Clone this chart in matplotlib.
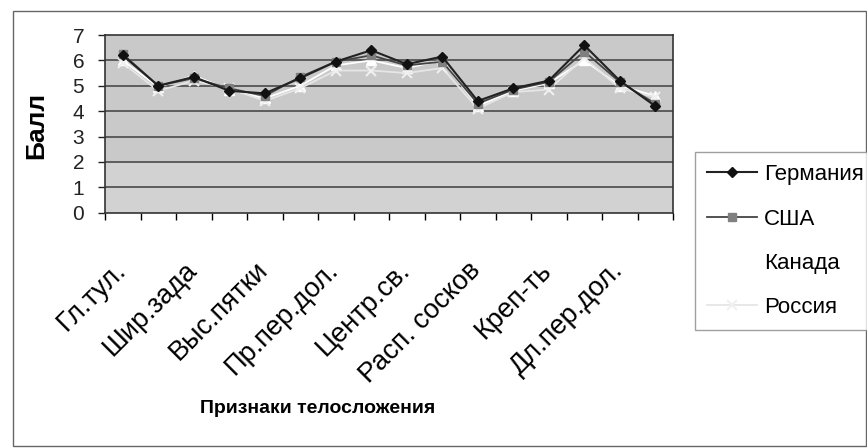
import numpy as np
import matplotlib
matplotlib.use("Agg")
from matplotlib import pyplot as plt
from matplotlib.patches import Rectangle
from matplotlib.transforms import ScaledTranslation

plt.rcParams['font.family'] = ['Liberation Sans', 'DejaVu Sans']

# scores for the 16 body traits (only every other trait is labelled on the axis)
labels = ["Гл.тул.", "Шир.зада", "Выс.пятки", "Пр.пер.дол.",
          "Центр.св.", "Расп. сосков", "Креп-ть", "Дл.пер.дол."]
germany = [6.2, 5.0, 5.35, 4.8, 4.7, 5.3, 5.95, 6.4, 5.85, 6.15, 4.4, 4.9, 5.2, 6.6, 5.2, 4.2]
usa     = [6.25, 5.0, 5.3, 4.9, 4.6, 5.35, 5.95, 6.2, 5.8, 5.95, 4.3, 4.85, 5.15, 6.35, 5.15, 4.3]
canada  = [6.0, 4.95, 5.4, 4.85, 4.5, 5.0, 5.8, 6.0, 5.7, 6.0, 4.2, 4.8, 5.1, 6.0, 5.0, 4.6]
russia  = [5.9, 4.8, 5.2, 4.9, 4.4, 4.9, 5.6, 5.6, 5.5, 5.7, 4.1, 4.75, 4.85, 6.1, 4.9, 4.55]

x = np.arange(len(germany))

fig = plt.figure(figsize=(8.67, 4.48), dpi=100)
ax = fig.add_axes([105/867, 1 - 212.7/448, 568/867, 177.7/448])

# chart frame
fig.patches.append(Rectangle((13/867, 2/448), 853/867, 435/448, transform=fig.transFigure,
                             fill=False, edgecolor="#666666", lw=1.0))

# plot area fill: gray band above 2, slightly lighter below
ax.axhspan(2, 7, color="#c9c9c9", zorder=0)
ax.axhspan(0, 2, color="#d2d2d2", zorder=0)
for yv in range(1, 7):
    ax.axhline(yv, color="#4a4a4a", lw=1.2, zorder=1)

ax.plot(x, germany, color="#222222", lw=1.5, marker="D", ms=5, mfc="#111111", mec="#111111",
        label="Германия", zorder=5)
ax.plot(x, usa, color="#444444", lw=1.3, marker="s", ms=5.5, mfc="#808080", mec="#808080",
        label="США", zorder=4)
ax.plot(x, canada, color="white", lw=1.3, marker="^", ms=7, mfc="white", mec="white",
        label="Канада", zorder=3)
ax.plot(x, russia, color="#e6e6e6", lw=1.3, marker="x", ms=7, mew=1.5, mec="#f0f0f0",
        label="Россия", zorder=3)

ax.set_xlim(-0.5, len(x) - 0.5)
ax.set_ylim(0, 7)
ax.set_yticks(range(8))
ax.tick_params(axis="y", direction="out", length=5, width=1, labelsize=15, pad=10, colors="#222222")

ax.set_xticks(x[::2])
ax.set_xticklabels(labels, rotation=45, ha="right", va="top", rotation_mode="anchor", fontsize=19.5)
ax.set_xticks(np.arange(-0.5, len(x)), minor=True)
ax.tick_params(axis="x", which="major", length=0, pad=32)
ax.tick_params(axis="x", which="minor", direction="out", length=5, width=1)
# nudge the slanted labels a little to the left
shift = ScaledTranslation(-0.1, 0, fig.dpi_scale_trans)
for lbl in ax.get_xticklabels():
    lbl.set_transform(lbl.get_transform() + shift)

for side in ax.spines.values():
    side.set_color("#333333")
    side.set_linewidth(1.2)

fig.text(36/867, 1 - 125/448, "Балл", rotation=90, fontsize=19, fontweight="bold",
         ha="center", va="center")
fig.text(318/867, 1 - 408/448, "Признаки телосложения", fontsize=14, fontweight="bold",
         ha="center", va="center")

leg = fig.legend(loc="upper left", bbox_to_anchor=(695/867, 1 - 152/448), fontsize=16,
                 frameon=True, fancybox=False, handlelength=2.25, labelspacing=1.05,
                 borderaxespad=0, handletextpad=0.3, borderpad=0.55)
leg.get_frame().set_edgecolor("#888888")
leg.get_frame().set_linewidth(1.0)

fig.savefig("out.png", dpi=100)
